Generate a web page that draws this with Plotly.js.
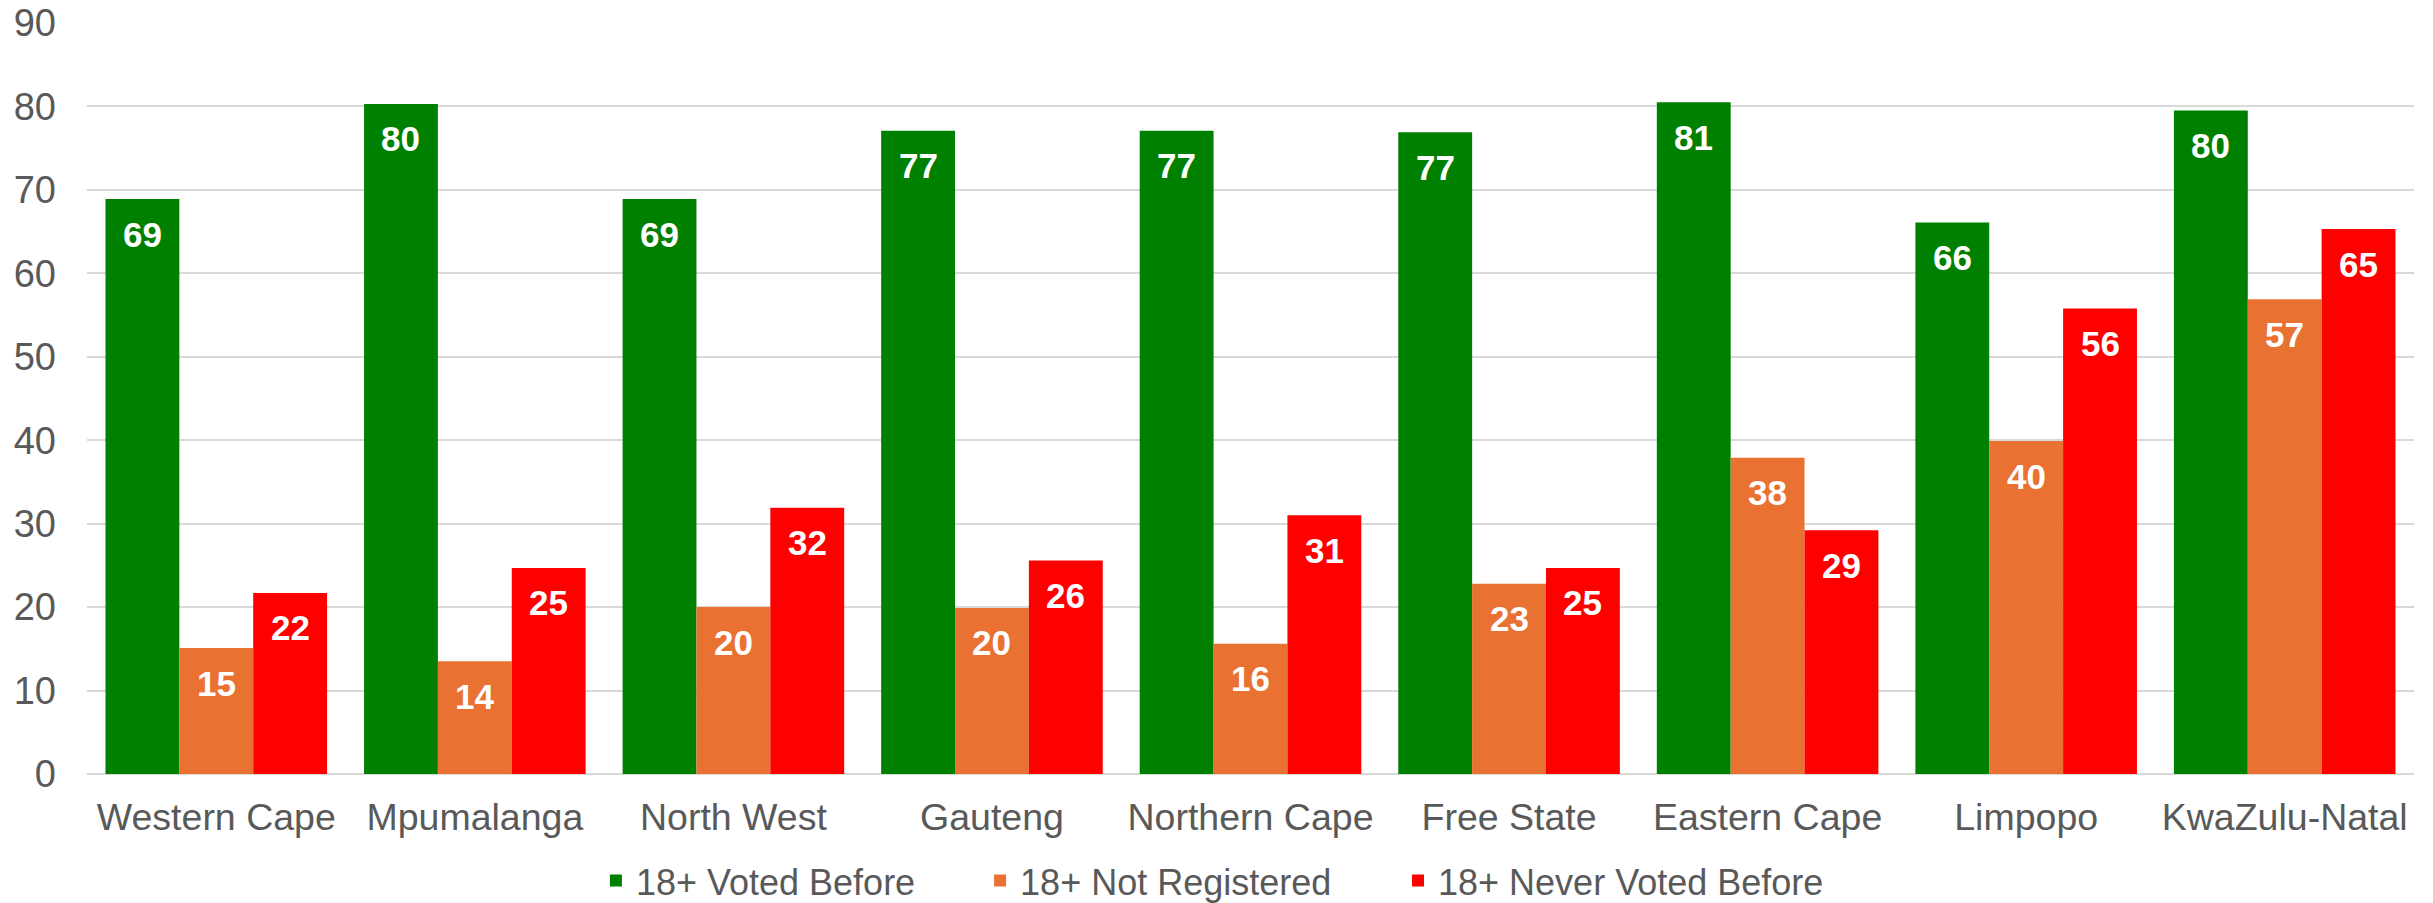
<!DOCTYPE html>
<html>
<head>
<meta charset="utf-8">
<script src="https://cdn.plot.ly/plotly-3.0.1.min.js"></script>
<style>html,body{margin:0;padding:0;background:#fff;}#chart{width:2433px;height:903px;}</style>
</head>
<body>
<div id="chart"></div>
<script>
const provinces = ["Western Cape","Mpumalanga","North West","Gauteng","Northern Cape","Free State","Eastern Cape","Limpopo","KwaZulu-Natal"];
const votedBefore = [68.9, 80.3, 68.9, 77.1, 77.1, 76.9, 80.5, 66.1, 79.5];
const notRegistered = [15.1, 13.5, 20.0, 19.9, 15.6, 22.8, 37.9, 39.9, 56.9];
const neverVoted = [21.7, 24.7, 31.9, 25.6, 31.0, 24.7, 29.2, 55.8, 65.3];
const seriesNames = ["18+ Voted Before","18+ Not Registered","18+ Never Voted Before"];
const seriesColors = ["#008000","#E97132","#FF0000"];
const yTicks = [0,10,20,30,40,50,60,70,80,90];

const seriesValues = [votedBefore, notRegistered, neverVoted];
const bargap = 0.143;
const font = "Liberation Sans, Arial, sans-serif";
const legendIds = ["legend", "legend2", "legend3"];
const legendX = [0.2187, 0.3838, 0.5634];

const traces = seriesValues.map((vals, i) => ({
  type: "bar",
  name: seriesNames[i],
  x: provinces,
  y: vals,
  legend: legendIds[i],
  marker: {color: seriesColors[i], line: {width: 0}},
  hoverinfo: "x+y+name"
}));

const w = (1 - bargap) / 3;
const annotations = [];
seriesValues.forEach((vals, i) => {
  vals.forEach((v, j) => {
    annotations.push({
      xref: "x", yref: "y",
      x: j + (i - 1) * w, y: v,
      text: String(Math.round(v)),
      showarrow: false,
      yanchor: "middle", xanchor: "center",
      yshift: -35,
      font: {family: font, size: 35, color: "#ffffff", weight: "bold"}
    });
  });
});

const layout = {
  width: 2433, height: 903,
  margin: {l: 87, r: 19, t: 23, b: 129, autoexpand: false},
  paper_bgcolor: "#ffffff",
  plot_bgcolor: "#ffffff",
  barmode: "group",
  bargap: bargap,
  bargroupgap: 0,
  showlegend: true,
  xaxis: {
    type: "category",
    tickfont: {family: font, size: 37.5, color: "#595959"},
    showgrid: false, showline: false, ticks: "",
    ticklabelstandoff: 17
  },
  yaxis: {
    range: [0, 90],
    tickvals: yTicks,
    tickfont: {family: font, size: 38, color: "#595959"},
    showgrid: true, gridcolor: "#d9d9d9", gridwidth: 2,
    zeroline: true, zerolinecolor: "#d9d9d9", zerolinewidth: 2,
    showline: false, ticks: "",
    ticklabelstandoff: 30
  },
  annotations: annotations
};
legendIds.forEach((id, i) => {
  layout[id] = {
    orientation: "h", x: legendX[i], xanchor: "left", y: -0.142, yanchor: "middle",
    font: {family: font, size: 36, color: "#595959"},
    itemwidth: 30, bgcolor: "rgba(0,0,0,0)"
  };
});

Plotly.newPlot("chart", traces, layout, {displayModeBar: false, staticPlot: true});
</script>
</body>
</html>
